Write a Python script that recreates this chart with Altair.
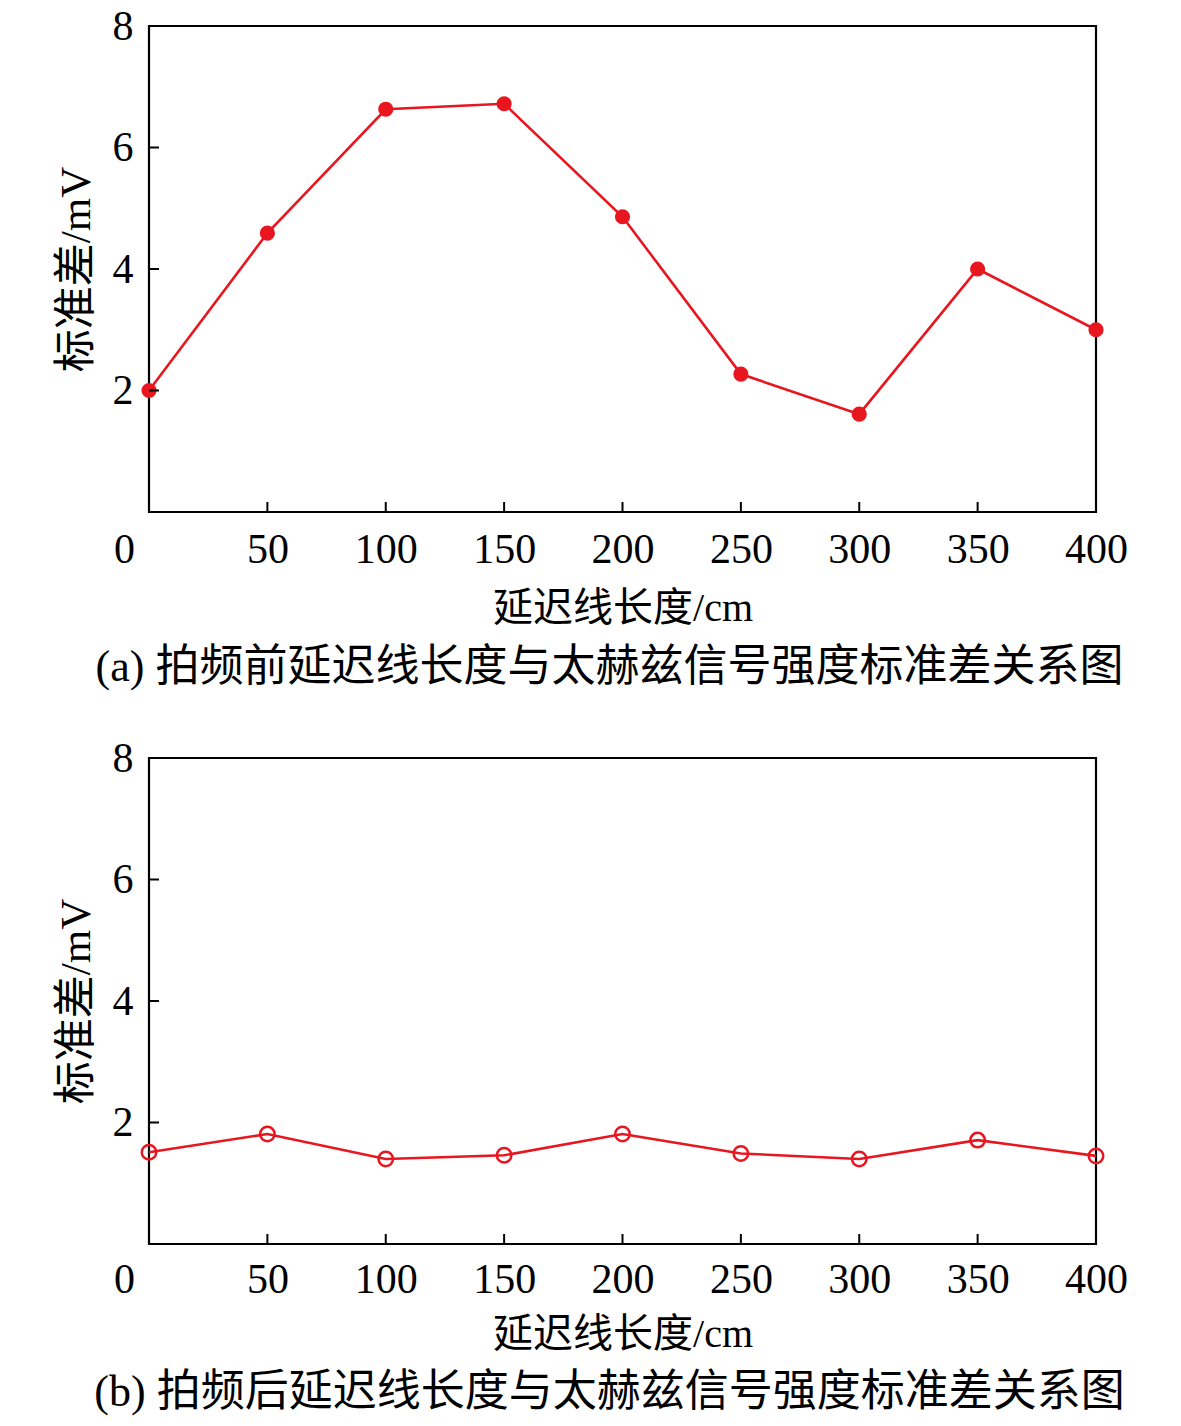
import altair as alt
import pandas as pd

lengths = [0, 50, 100, 150, 200, 250, 300, 350, 400]
std_before = [2.0, 4.59, 6.63, 6.72, 4.86, 2.27, 1.61, 4.0, 3.0]
std_after = [1.51, 1.81, 1.40, 1.46, 1.81, 1.49, 1.40, 1.71, 1.45]
x_ticks = [0, 50, 100, 150, 200, 250, 300, 350, 400]
y_ticks = [2, 4, 6, 8]
x_inner_ticks = [50, 100, 150, 200, 250, 300, 350]
y_inner_ticks = [2, 4, 6]
x_title = "延迟线长度/cm"
y_title = "标准差/mV"
captions = ["(a) 拍频前延迟线长度与太赫兹信号强度标准差关系图",
            "(b) 拍频后延迟线长度与太赫兹信号强度标准差关系图"]

RED = "#e8161f"
FONT = "Liberation Serif, Noto Sans CJK SC"
W, H = 947, 486


def panel(values, filled, caption, label_pad, title_pad, cap_off):
    df = pd.DataFrame({"x": lengths, "y": values})
    xs = alt.Scale(domain=[0, 400], nice=False)
    ys = alt.Scale(domain=[0, 8], nice=False)
    xaxis = alt.Axis(values=x_ticks, format="d", domain=False, ticks=False, grid=False,
                     labelFontSize=42, labelFont=FONT, labelColor="black",
                     labelPadding=label_pad, labelFlush=False,
                     labelOffset={"condition": {"test": "datum.value == 0", "value": -25}, "value": 0},
                     title=x_title, titleFontSize=40, titleFont=FONT,
                     titleFontWeight="normal", titleColor="black", titlePadding=title_pad)
    yaxis = alt.Axis(values=y_ticks, format="d", domain=False, ticks=False, grid=False,
                     labelFontSize=42, labelFont=FONT, labelColor="black",
                     labelPadding=16, labelFlush=False,
                     title=y_title, titleFontSize=43, titleFont=FONT,
                     titleFontWeight="normal", titleColor="black", titlePadding=14)
    base = alt.Chart(df)
    line = base.mark_line(color=RED, strokeWidth=2.6).encode(
        x=alt.X("x:Q", scale=xs, axis=xaxis),
        y=alt.Y("y:Q", scale=ys, axis=yaxis),
    )
    if filled:
        pts = base.mark_point(shape="circle", filled=True, color=RED, size=230, opacity=1).encode(
            x=alt.X("x:Q", scale=xs), y=alt.Y("y:Q", scale=ys))
    else:
        pts = base.mark_point(shape="circle", filled=False, color=RED, size=210,
                              strokeWidth=2.5, opacity=1).encode(
            x=alt.X("x:Q", scale=xs), y=alt.Y("y:Q", scale=ys))
    xt = alt.Chart(pd.DataFrame({"t": x_inner_ticks})).mark_rule(color="black", strokeWidth=2).encode(
        x=alt.X("t:Q", scale=xs), y=alt.value(H), y2=alt.value(H - 10))
    yt = alt.Chart(pd.DataFrame({"t": y_inner_ticks})).mark_rule(color="black", strokeWidth=2).encode(
        y=alt.Y("t:Q", scale=ys), x=alt.value(0), x2=alt.value(10))
    return alt.layer(line, pts, xt, yt).properties(
        width=W, height=H,
        title=alt.TitleParams(caption, orient="bottom", anchor="middle", fontSize=44,
                              font=FONT, fontWeight="normal", color="black", offset=cap_off, dx=-13),
    )


chart = alt.vconcat(
    panel(std_before, True, captions[0], 17, 18, 18),
    panel(std_after, False, captions[1], 15, 14, 17),
    spacing=43,
).properties(
    padding={"left": 45, "top": -5, "right": 10, "bottom": 5},
).configure(background="white").configure_view(stroke="black", strokeWidth=2.2)

chart.save("out.html", embed_options={"renderer": "svg", "actions": False})
